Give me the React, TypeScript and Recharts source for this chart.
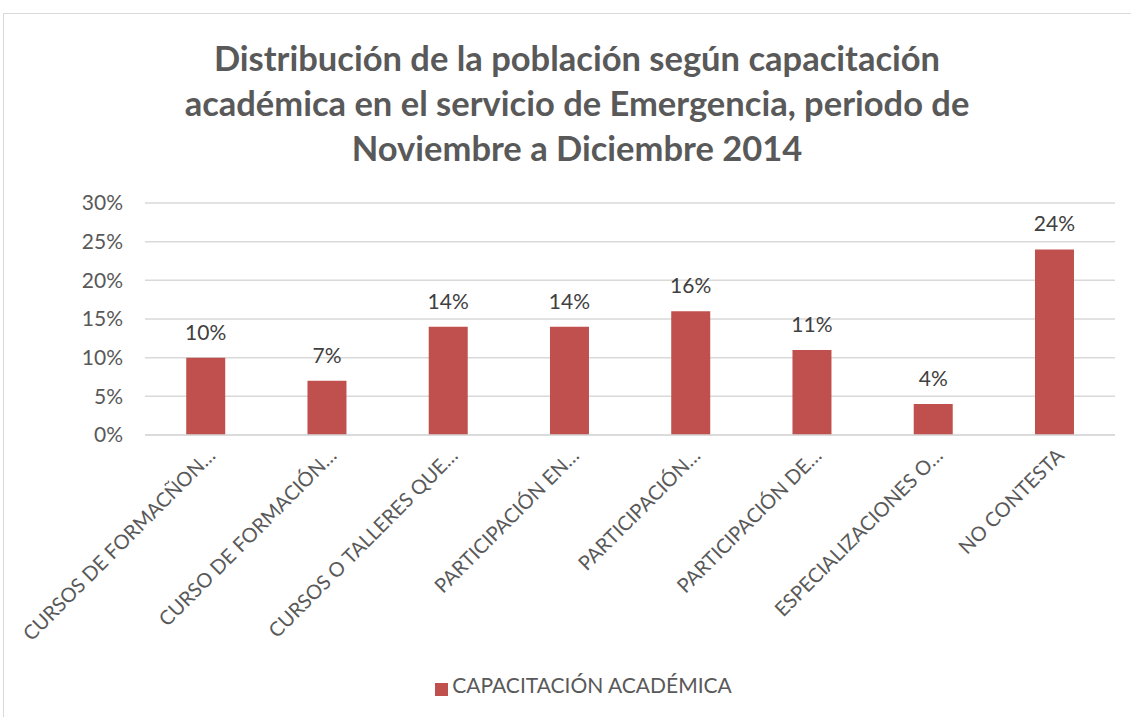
import { BarChart, Bar, XAxis, YAxis, CartesianGrid, Legend, LabelList } from "recharts";

const CATEGORIES = [
  "CURSOS DE FORMACÑON…",
  "CURSO DE FORMACIÓN…",
  "CURSOS O TALLERES QUE…",
  "PARTICIPACIÓN EN…",
  "PARTICIPACIÓN…",
  "PARTICIPACIÓN DE…",
  "ESPECIALIZACIONES O…",
  "NO CONTESTA",
];
const VALUES = [10, 7, 14, 14, 16, 11, 4, 24];
const Y_TICKS = [0, 5, 10, 15, 20, 25, 30];
const SERIES_NAME = "CAPACITACIÓN ACADÉMICA";

const data = CATEGORIES.map((c, i) => ({ name: c, value: VALUES[i] }));

const FONT = "Lato, 'Open Sans', sans-serif";
const TEXT = "#595959";
const RED = "#C0504D";

function XTick(props: any) {
  const { x, y, payload } = props;
  const ax = x + 6;
  const ay = y + 9;
  return (
    <text
      x={ax}
      y={ay}
      transform={`rotate(-45, ${ax}, ${ay})`}
      textAnchor="end"
      dy="0.35em"
      fill={TEXT}
      fontSize={20}
      fontFamily={FONT}
    >
      {payload.value}
    </text>
  );
}

export default function App() {
  return (
    <div style={{ position: "absolute", left: 0, top: 0, width: 1131, height: 717, overflow: "hidden", background: "#fff" }}>
      <div style={{ position: "absolute", left: 3, top: 13, width: 1140, height: 720, border: "1px solid #d9d9d9" }} />
      <div
        style={{
          position: "absolute",
          left: 0,
          top: 35,
          width: 1154,
          textAlign: "center",
          fontFamily: FONT,
          fontWeight: 700,
          fontSize: 34.5,
          lineHeight: "45px",
          color: TEXT,
        }}
      >
        Distribución de la población según capacitación
        <br />
        académica en el servicio de Emergencia, periodo de
        <br />
        Noviembre a Diciembre 2014
      </div>
      <div style={{ position: "absolute", left: 0, top: 0 }}>
        <BarChart
          width={1131}
          height={717}
          data={data}
          margin={{ top: 203, right: 16, left: 85, bottom: 20 }}
          barCategoryGap="34%"
        >
          <CartesianGrid vertical={false} stroke="#d9d9d9" strokeWidth={1.5} />
          <XAxis
            dataKey="name"
            interval={0}
            height={237}
            tick={<XTick />}
            tickLine={false}
            axisLine={{ stroke: "#d9d9d9", strokeWidth: 1.5 }}
          />
          <YAxis
            width={60}
            domain={[0, 30]}
            ticks={Y_TICKS}
            tickFormatter={(v: number) => `${v}%`}
            tick={{ fill: TEXT, fontSize: 21, fontFamily: FONT }}
            tickLine={false}
            tickSize={0}
            tickMargin={22}
            axisLine={false}
          />
          <Legend
            verticalAlign="bottom"
            iconType="square"
            iconSize={13}
            wrapperStyle={{ left: 23, width: 1131 }}
            formatter={(v: string) => (
              <span style={{ color: TEXT, fontSize: 21, fontFamily: FONT }}>{v}</span>
            )}
          />
          <Bar dataKey="value" name={SERIES_NAME} fill={RED} isAnimationActive={false}>
            <LabelList
              dataKey="value"
              position="top"
              offset={18}
              formatter={(v: number) => `${v}%`}
              style={{ fill: "#404040", fontSize: 21, fontFamily: FONT }}
            />
          </Bar>
        </BarChart>
      </div>
    </div>
  );
}
